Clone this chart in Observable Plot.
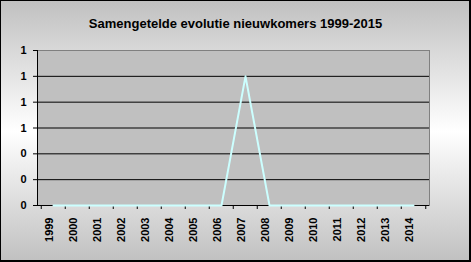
<!DOCTYPE html>
<html>
<head>
<meta charset="utf-8">
<script src="https://cdn.jsdelivr.net/npm/d3@7"></script>
<script src="https://cdn.jsdelivr.net/npm/@observablehq/plot@0.6"></script>
<style>
  html, body { margin: 0; padding: 0; background: #fff; }
</style>
</head>
<body>
<div id="chart"></div>
<script>
const title = "Samengetelde evolutie nieuwkomers 1999-2015";
const years = ["1999","2000","2001","2002","2003","2004","2005","2006","2007","2008","2009","2010","2011","2012","2013","2014"];
const values = [0,0,0,0,0,0,0,0,1,0,0,0,0,0,0,0];
const yTicks = [0, 0.2, 0.4, 0.6, 0.8, 1.0, 1.2];
const gridTicks = [0.2, 0.4, 0.6, 0.8, 1.0];

const data = years.map((y, i) => ({year: y, value: values[i]}));

const W = 471, H = 262, ML = 37, MR = 42, MT = 50, MB = 57;
const halfBand = (W - ML - MR) / years.length / 2;

const font = "'Liberation Sans', Arial, sans-serif";

const chart = Plot.plot({
  width: W,
  height: H,
  marginLeft: ML,
  marginRight: MR,
  marginTop: MT,
  marginBottom: MB,
  style: {
    fontFamily: font,
    fontSize: "11px",
    fontWeight: "bold",
    color: "#000",
    background: "linear-gradient(#c0c0c0 0%, #ffffff 50%, #c0c0c0 100%)",
    boxShadow: "inset 1px 1px 0 #000, inset -2px -2px 0 #000",
    overflow: "visible"
  },
  x: {type: "band", domain: years, padding: 0, label: null},
  y: {domain: [0, 1.2], label: null},
  marks: [
    Plot.frame({fill: "#c0c0c0", stroke: "#808080"}),
    Plot.ruleY(gridTicks, {stroke: "#000", strokeWidth: 1}),
    Plot.ruleY([0], {stroke: "#000", strokeWidth: 1}),
    Plot.frame({anchor: "left", stroke: "#000"}),
    // tick marks at the band boundaries
    Plot.ruleX(years, {x: d => d, y1: 0, y2: 0, insetBottom: -4, dx: -halfBand, stroke: "#000"}),
    Plot.ruleX([years[years.length - 1]], {x: d => d, y1: 0, y2: 0, insetBottom: -4, dx: halfBand, stroke: "#000"}),
    Plot.axisX({
      ticks: years,
      tickRotate: -90,
      tickSize: 0,
      tickPadding: 12,
      dx: -4,
      fontSize: 11,
      fontWeight: "bold",
      label: null
    }),
    Plot.axisY({
      ticks: yTicks,
      tickFormat: d3.format(".0f"),
      tickSize: 4,
      tickPadding: 7,
      fontSize: 11,
      fontWeight: "bold",
      stroke: "#000",
      label: null
    }),
    Plot.line(data, {x: "year", y: "value", stroke: "#ccffff", strokeWidth: 2}),
    Plot.text([title], {
      frameAnchor: "top",
      dy: -32,
      dx: 2,
      fontSize: 13,
      fontWeight: "bold",
      fill: "#000"
    })
  ]
});

document.getElementById("chart").append(chart);
</script>
</body>
</html>
